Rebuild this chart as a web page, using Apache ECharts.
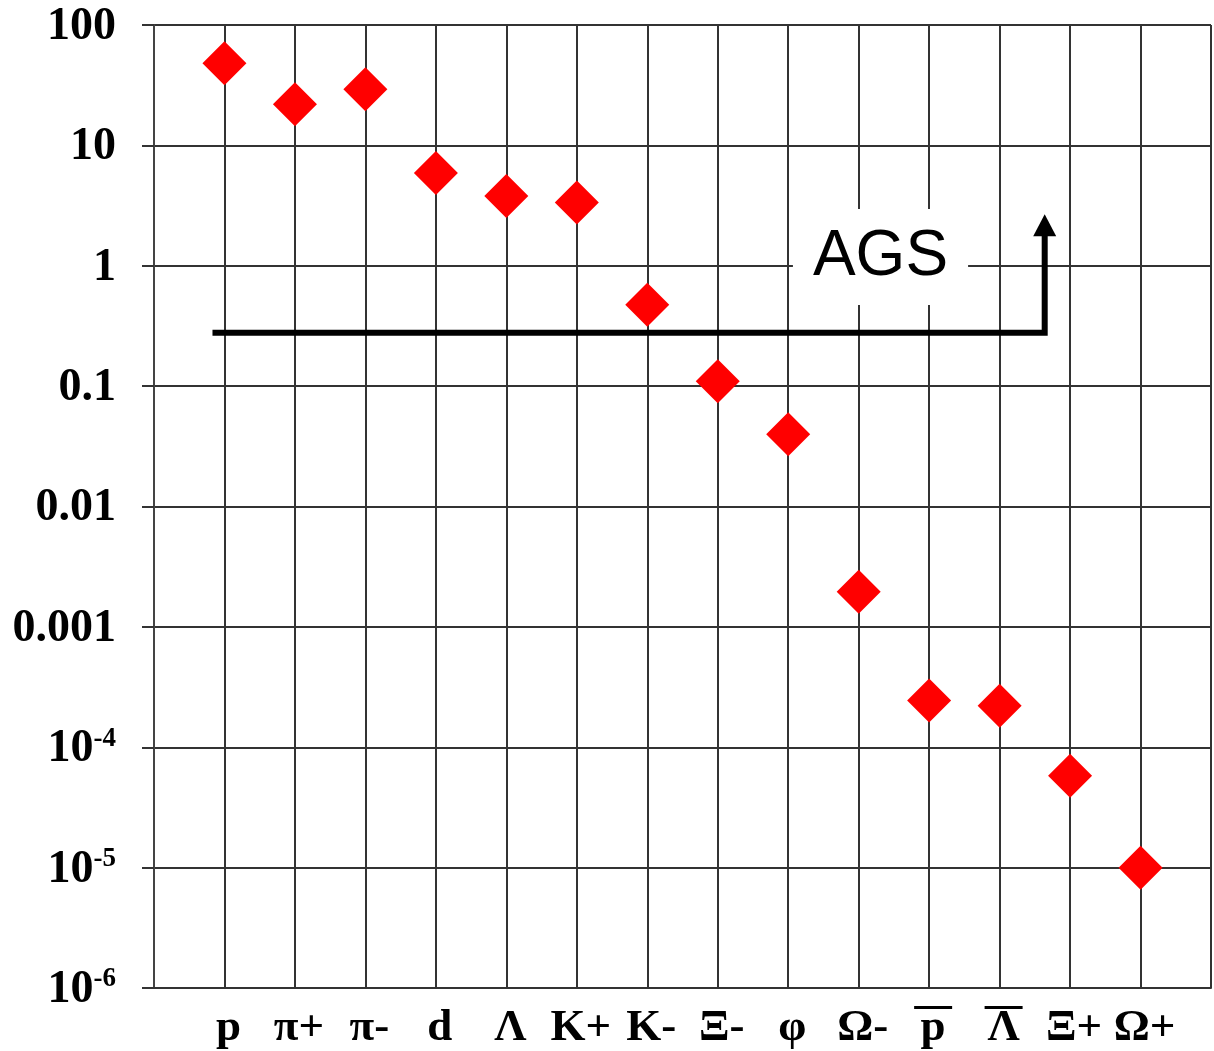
<!DOCTYPE html>
<html>
<head>
<meta charset="utf-8">
<script src="https://cdn.jsdelivr.net/npm/echarts@6/dist/echarts.min.js"></script>
<style>
html,body{margin:0;padding:0;background:#fff;}
#chart{width:1214px;height:1051px;}
</style>
</head>
<body>
<div id="chart"></div>
<script>
// Particle categories (x axis) and whether each is an antiparticle (drawn with an overline)
const categories = ['p', 'π+', 'π-', 'd', 'Λ', 'K+', 'K-', 'Ξ-', 'φ', 'Ω-', 'p', 'Λ', 'Ξ+', 'Ω+'];
const overlined  = [false, false, false, false, false, false, false, false, false, false, true, true, false, false];
// Values
const yields = [48, 22, 29.3, 5.9, 3.8, 3.36, 0.474, 0.11, 0.0398, 0.00196, 2.45e-4, 2.21e-4, 5.8e-5, 1.0e-5];
// Y tick labels, from 1e-6 up to 100
const yTickBase = ['10', '10', '10', '0.001', '0.01', '0.1', '1', '10', '100'];
const yTickSup  = ['-6', '-5', '-4', '', '', '', '', '', ''];
// AGS threshold annotation path (x in category units, y in value units)
const agsPath = [[0.83, 0.2776], [12.64, 0.2776], [12.64, 2.17]];
const agsLabelPos = [10.31, 1.18];
const agsText = 'AGS';

const chart = echarts.init(document.getElementById('chart'));
const serif = "'Liberation Serif', 'Times New Roman', serif";

const option = {
  animation: false,
  backgroundColor: '#fff',
  grid: { left: 154, right: 2, top: 23, bottom: 63, containLabel: false },
  xAxis: {
    type: 'value',
    min: 0,
    max: categories.length + 1,
    interval: 1,
    axisLine: { show: true, lineStyle: { color: '#333', width: 2 } },
    axisTick: { show: false },
    splitLine: { show: true, lineStyle: { color: '#333', width: 2 } },
    axisLabel: {
      margin: 17,
      padding: [0, 0, 0, 8],
      formatter: function (v) {
        const i = Math.round(v) - 1;
        if (i < 0 || i >= categories.length) return '';
        return (overlined[i] ? '{ol| }' : '{no| }') + '\n{t|' + categories[i] + '}';
      },
      rich: {
        ol: { width: 38, height: 3, lineHeight: 5, fontSize: 3, backgroundColor: '#000' },
        no: { width: 2, height: 3, lineHeight: 5, fontSize: 3 },
        t: { fontFamily: serif, fontWeight: 'bold', fontSize: 45, lineHeight: 36, color: '#000' }
      }
    }
  },
  yAxis: {
    type: 'log',
    logBase: 10,
    min: 1e-6,
    max: 100,
    interval: 1,
    axisLine: { show: true, lineStyle: { color: '#444', width: 2 } },
    axisTick: { show: true, inside: false, length: 12, lineStyle: { color: '#333', width: 2 } },
    splitLine: { show: true, lineStyle: { color: '#333', width: 2 } },
    axisLabel: {
      margin: 38,
      formatter: function (v) {
        const idx = Math.round(Math.log10(v)) + 6;
        if (idx < 0 || idx >= yTickBase.length) return '';
        const sup = yTickSup[idx];
        return '{b|' + yTickBase[idx] + '}' + (sup ? '{s|' + sup + '}' : '');
      },
      rich: {
        b: { fontFamily: serif, fontWeight: 'bold', fontSize: 46, lineHeight: 44, color: '#000', padding: [4, 0, 0, 0] },
        s: { fontFamily: serif, fontWeight: 'bold', fontSize: 27, verticalAlign: 'top', color: '#000' }
      }
    }
  },
  series: [
    {
      name: 'AGS',
      type: 'line',
      z: 3,
      symbol: 'none',
      showSymbol: true,
      lineStyle: { color: '#000', width: 6, join: 'miter', cap: 'butt' },
      itemStyle: { color: '#000' },
      data: agsPath.map(function (p, i) {
        if (i === agsPath.length - 1) {
          return { value: p, symbol: 'triangle', symbolSize: [23, 22] };
        }
        return { value: p, symbol: 'none' };
      })
    },
    {
      name: 'yield',
      type: 'scatter',
      z: 4,
      symbol: 'diamond',
      symbolSize: 44,
      itemStyle: { color: '#ff0000', opacity: 1 },
      data: yields.map(function (y, i) { return [i + 1, y]; })
    },
    {
      name: 'agsLabel',
      type: 'scatter',
      z: 5,
      symbolSize: 1,
      itemStyle: { color: 'transparent', opacity: 1 },
      label: {
        show: true,
        position: 'inside',
        formatter: agsText,
        fontFamily: "'Liberation Sans', Arial, sans-serif",
        fontSize: 64,
        lineHeight: 64,
        color: '#000',
        opacity: 1,
        backgroundColor: '#fff',
        padding: [16, 20]
      },
      data: [agsLabelPos]
    }
  ]
};
chart.setOption(option);
</script>
</body>
</html>
